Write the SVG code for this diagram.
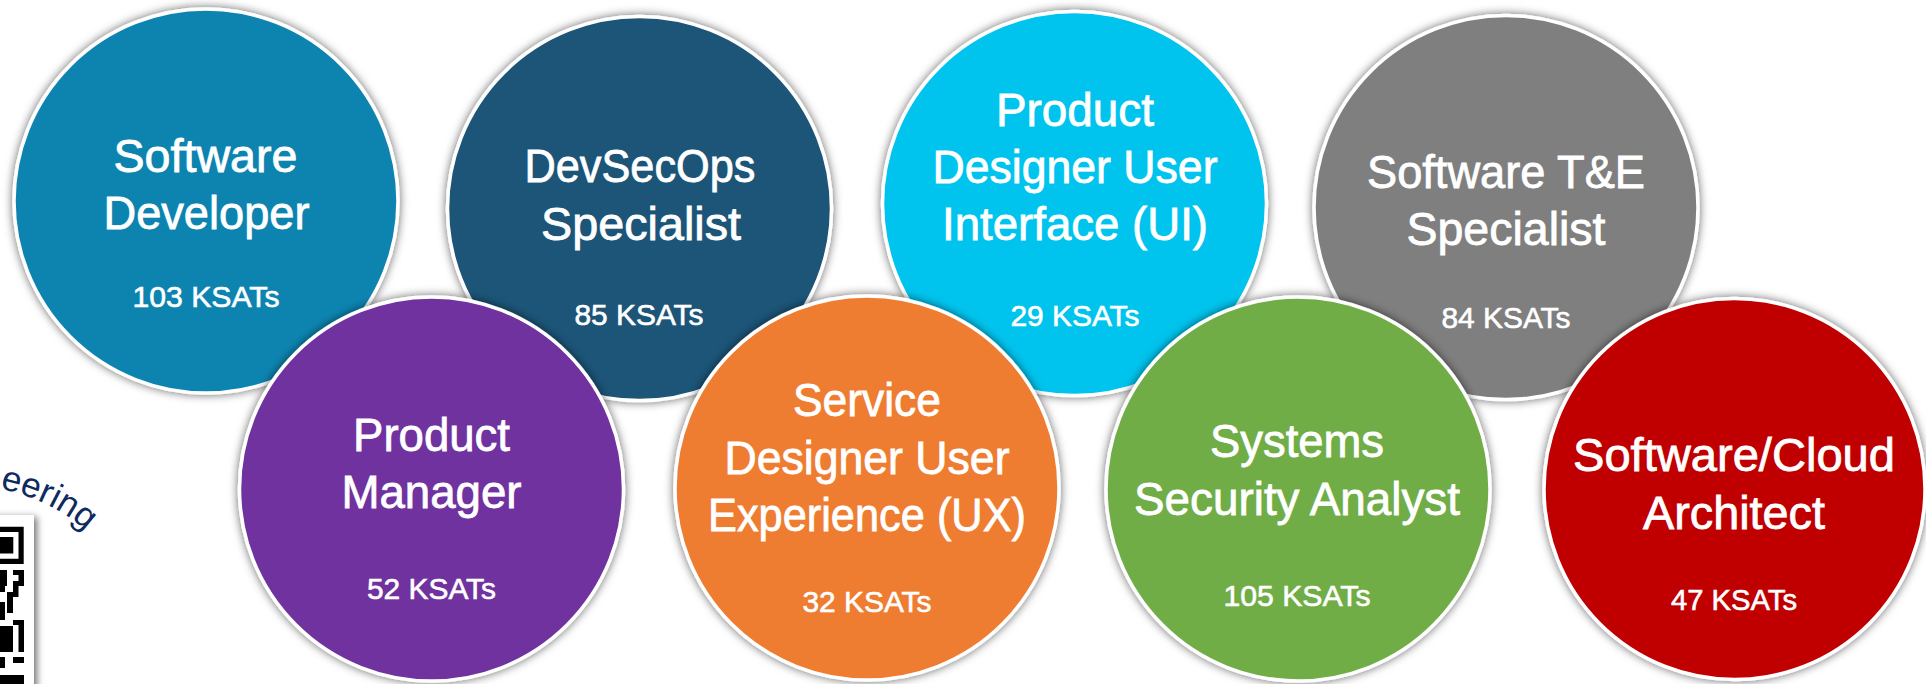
<svg xmlns="http://www.w3.org/2000/svg" width="1926" height="684" viewBox="0 0 1926 684">
<style>
.c{stroke:#fff;stroke-width:3.5;filter:url(#s)}
.t,.k{font-family:"Liberation Sans",Arial,sans-serif;fill:#fff;stroke:#fff;text-anchor:middle}
.t{font-size:47px;stroke-width:.8}
.k{font-size:30px;stroke-width:.6}
</style>
<defs>
<filter id="s" x="-10%" y="-10%" width="120%" height="120%"><feDropShadow dx="0" dy="0" stdDeviation="5" flood-color="#000" flood-opacity="0.6"/></filter>
<filter id="q" x="-30%" y="-10%" width="170%" height="120%"><feDropShadow dx="3" dy="2" stdDeviation="3.5" flood-color="#000" flood-opacity="0.55"/></filter>
<path id="arc" d="M -60 481 Q 36 485 86 531"/>
</defs>
<rect width="1926" height="684" fill="#fff"/>
<g id="qr">
<rect x="-10" y="515" width="44" height="180" fill="#fff" filter="url(#q)"/>
<path fill="#000" d="M0 526.7H23.7V564H0V558.8H18.5V531.9H0Z M0 537H13.3V553.5H0Z
M0 570H7V586H5V592H0Z M13 570H24V586H13V581H18.5V575H13Z M13 586H18.5V597H13Z M7 592H13V613H7Z M0 602H5V620H0Z
M13 620H24V652H18.5V625H13Z M0 626H13V652H0Z M13 657H24V663H13Z M0 657H5V668H0Z M0 675H24V684H0Z"/>
</g>
<text id="caption" font-family="'Liberation Sans',Arial,sans-serif" font-size="35" fill="#0e2a5e"><textPath href="#arc" startOffset="100%" text-anchor="end">eering</textPath></text>
<g id="connectors"/>
<g id="software-developer"><circle class="c" cx="206" cy="201" r="192" fill="#1184b0"/><text class="t" x="205.5" y="172" textLength="184" lengthAdjust="spacingAndGlyphs">Software</text><text class="t" x="206.5" y="229" textLength="206" lengthAdjust="spacingAndGlyphs">Developer</text><text class="k" x="206" y="307" textLength="147" lengthAdjust="spacingAndGlyphs">103 KSATs</text></g>
<g id="devsecops"><circle class="c" cx="639.5" cy="208.5" r="192" fill="#1f5478"/><text class="t" x="640" y="182" textLength="231" lengthAdjust="spacingAndGlyphs">DevSecOps</text><text class="t" x="641" y="240" textLength="200" lengthAdjust="spacingAndGlyphs">Specialist</text><text class="k" x="639" y="325" textLength="129" lengthAdjust="spacingAndGlyphs">85 KSATs</text></g>
<g id="ui"><circle class="c" cx="1074.5" cy="203.5" r="192" fill="#00c4ee"/><text class="t" x="1075" y="125.5" textLength="158" lengthAdjust="spacingAndGlyphs">Product</text><text class="t" x="1075" y="183" textLength="285" lengthAdjust="spacingAndGlyphs">Designer User</text><text class="t" x="1075" y="240" textLength="266" lengthAdjust="spacingAndGlyphs">Interface (UI)</text><text class="k" x="1075" y="326" textLength="129" lengthAdjust="spacingAndGlyphs">29 KSATs</text></g>
<g id="te"><circle class="c" cx="1506" cy="207.5" r="192" fill="#7f7f7f"/><text class="t" x="1506" y="187.5" textLength="278" lengthAdjust="spacingAndGlyphs">Software T&amp;E</text><text class="t" x="1506" y="244.5" textLength="199" lengthAdjust="spacingAndGlyphs">Specialist</text><text class="k" x="1506" y="328" textLength="129" lengthAdjust="spacingAndGlyphs">84 KSATs</text></g>
<g id="product-manager"><circle class="c" cx="431.5" cy="489" r="192" fill="#70309e"/><text class="t" x="431.5" y="451" textLength="157" lengthAdjust="spacingAndGlyphs">Product</text><text class="t" x="431.5" y="508" textLength="180" lengthAdjust="spacingAndGlyphs">Manager</text><text class="k" x="431.5" y="598.5" textLength="129" lengthAdjust="spacingAndGlyphs">52 KSATs</text></g>
<g id="ux"><circle class="c" cx="867" cy="488" r="192" fill="#ee7d31"/><text class="t" x="867" y="416" textLength="148" lengthAdjust="spacingAndGlyphs">Service</text><text class="t" x="867" y="473.5" textLength="285" lengthAdjust="spacingAndGlyphs">Designer User</text><text class="t" x="867" y="531" textLength="318" lengthAdjust="spacingAndGlyphs">Experience (UX)</text><text class="k" x="867" y="612" textLength="129" lengthAdjust="spacingAndGlyphs">32 KSATs</text></g>
<g id="systems"><circle class="c" cx="1298" cy="489" r="192" fill="#70ad47"/><text class="t" x="1297" y="457" textLength="174" lengthAdjust="spacingAndGlyphs">Systems</text><text class="t" x="1297" y="515" textLength="326" lengthAdjust="spacingAndGlyphs">Security Analyst</text><text class="k" x="1297" y="605.5" textLength="147" lengthAdjust="spacingAndGlyphs">105 KSATs</text></g>
<g id="architect"><circle class="c" cx="1734.5" cy="489" r="190.5" fill="#c00000"/><text class="t" x="1734" y="471" textLength="322" lengthAdjust="spacingAndGlyphs">Software/Cloud</text><text class="t" x="1734" y="529" textLength="182" lengthAdjust="spacingAndGlyphs">Architect</text><text class="k" x="1734" y="610" textLength="126" lengthAdjust="spacingAndGlyphs">47 KSATs</text></g>
</svg>
